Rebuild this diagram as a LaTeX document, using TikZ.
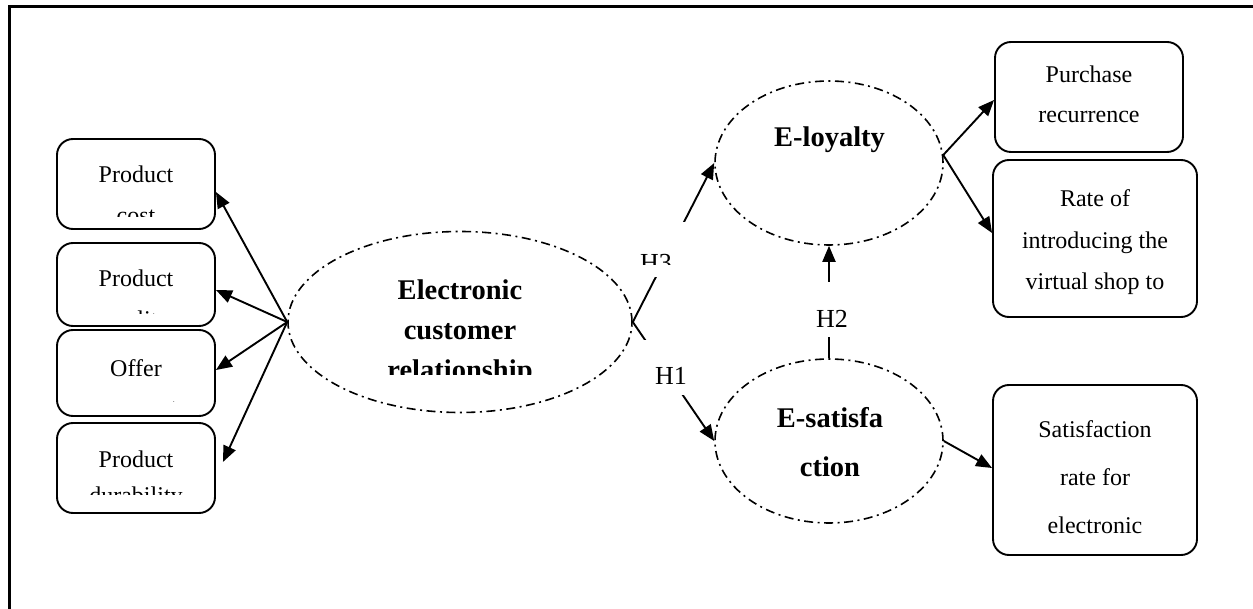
\documentclass[tikz,border=0pt]{standalone}
\usepackage{fontspec}
\setmainfont{Liberation Serif}
\usetikzlibrary{shapes.geometric,arrows.meta}
\begin{document}
\begin{tikzpicture}[x=1pt,y=-1pt,
 box/.style={draw,line width=1.9pt,rounded corners=16pt,inner sep=0pt},
 oval/.style={draw,ellipse,line width=1.6pt,dash pattern=on 9pt off 4.5pt on 2pt off 4.5pt,inner sep=0pt},
 conn/.style={line width=1.9pt,-{Triangle[length=16pt,width=13pt]}},
 lbl/.style={anchor=base,inner sep=0pt,font=\fontsize{24}{24}\selectfont},
 blbl/.style={anchor=base,inner sep=0pt,font=\fontsize{28.5}{28.5}\selectfont\bfseries},
 hlbl/.style={anchor=base,inner sep=0pt,font=\fontsize{26}{26}\selectfont},
 gapbox/.style={fill=white,inner sep=0pt,minimum width=60pt,minimum height=55pt}]
\useasboundingbox (0,0) rectangle (1253,609);
% frame
\draw[line width=3.5pt] (9.5,609) -- (9.5,6.5) -- (1253,6.5);
% left boxes
\node[box,minimum width=158pt,minimum height=90pt] (b1) at (136,184) {};
\node[box,minimum width=158pt,minimum height=83pt] (b2) at (136,284.5) {};
\node[box,minimum width=158pt,minimum height=86pt] (b3) at (136,373) {};
\node[box,minimum width=158pt,minimum height=90pt] (b4) at (136,468) {};
% right boxes
\node[box,minimum width=188pt,minimum height=110pt] (p1) at (1089,97) {};
\node[box,minimum width=204pt,minimum height=157pt] (p2) at (1095,238.5) {};
\node[box,minimum width=204pt,minimum height=170pt] (p3) at (1095,470) {};
% ellipses
\node[oval,minimum width=344pt,minimum height=181pt] (ecr) at (460,322) {};
\node[oval,minimum width=228pt,minimum height=164pt] (loy) at (829,163) {};
\node[oval,minimum width=228pt,minimum height=164pt] (sat) at (829,441) {};
% connectors
\draw[conn] (ecr.west) -- ([yshift=-8pt]b1.east);
\draw[conn] (ecr.west) -- ([yshift=-5.5pt]b2.east);
\draw[conn] (ecr.west) -- ([yshift=3pt]b3.east);
\draw[conn] (ecr.west) -- ([xshift=7pt,yshift=6pt]b4.east);
\draw[conn] (ecr.east) -- (loy.west);
\draw[conn] (ecr.east) -- (sat.west);
\draw[conn] (sat.north) -- (loy.south);
\draw[conn] (loy.4) -- ([yshift=-3pt]p1.west);
\draw[conn] (loy.4) -- ([yshift=5.5pt]p2.west);
\draw[conn] (sat.east) -- ([yshift=2pt]p3.west);
% label gaps
\node[gapbox] (g3) at (667,249.5) {};
\node[gapbox] (g1) at (667,367.5) {};
\node[gapbox] (g2) at (830,309.5) {};
% hypothesis labels
\begin{scope}
\clip (630,222) rectangle (700,265);
\node[hlbl] (h3) at (656,272) {H3};
\end{scope}
\node[hlbl] (h1) at (671,385) {H1};
\node[hlbl] (h2) at (832,328) {H2};
% ellipse texts
\begin{scope}
\clip (288,232) rectangle (632,375);
\node[blbl] (ecr1) at (460,300) {Electronic};
\node[blbl] (ecr2) at (460,340) {customer};
\node[blbl] (ecr3) at (460,380) {relationship};
\end{scope}
\node[blbl] (loy1) at (829.5,147) {E-loyalty};
\node[blbl] (sat1) at (830,428) {E-satisfa};
\node[blbl] (sat2) at (830,476) {ction};
% left box texts
\begin{scope}
\clip (57,139) rectangle (215,217);
\node[lbl] (t1a) at (136,183) {Product};
\node[lbl] (t1b) at (136,224) {cost};
\end{scope}
\begin{scope}
\clip (57,243) rectangle (215,313.5);
\node[lbl] (t2a) at (136,287) {Product};
\node[lbl] (t2b) at (136,328) {quality};
\end{scope}
\begin{scope}
\clip (57,330) rectangle (215,401.5);
\node[lbl] (t3a) at (136,377) {Offer};
\node[lbl] (t3b) at (136,415) {payment};
\end{scope}
\begin{scope}
\clip (57,423) rectangle (215,494);
\node[lbl] (t4a) at (136,467) {Product};
\node[lbl] (t4b) at (136,503) {durability};
\end{scope}
% right box texts
\node[lbl] (r1a) at (1089,83) {Purchase};
\node[lbl] (r1b) at (1089,123) {recurrence};
\node[lbl] (r2a) at (1095,207) {Rate of};
\node[lbl] (r2b) at (1095,248.5) {introducing the};
\node[lbl] (r2c) at (1095,290) {virtual shop to};
\node[lbl] (r3a) at (1095,437) {Satisfaction};
\node[lbl] (r3b) at (1095,485) {rate for};
\node[lbl] (r3c) at (1095,533) {electronic};
\end{tikzpicture}
\end{document}
